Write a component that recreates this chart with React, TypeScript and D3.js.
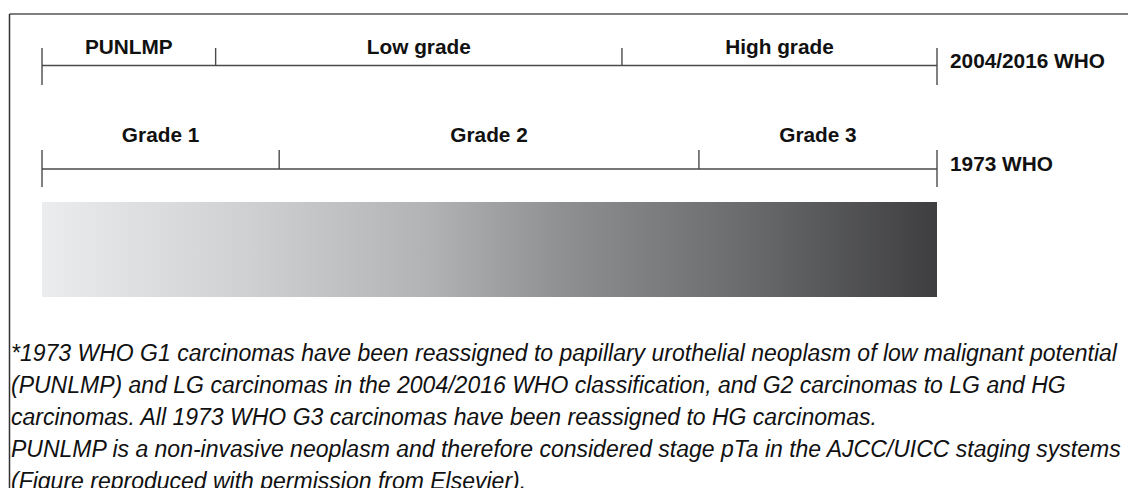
import React from "react";
import * as d3 from "d3";

// Grading spectrum positions (0 = lowest grade, 100 = highest grade)
const who2004Labels = ["PUNLMP", "Low grade", "High grade"];
const who2004Breaks = [0, 19.4, 64.8, 100];
const who1973Labels = ["Grade 1", "Grade 2", "Grade 3"];
const who1973Breaks = [0, 26.5, 73.4, 100];
const systemNames = ["2004/2016 WHO", "1973 WHO"];

const gradientOffsets = [0, 0.23, 0.43, 0.58, 0.78, 1];
const gradientColors = ["#ebeced", "#cfd0d2", "#b2b3b5", "#8f9092", "#6b6c6e", "#3e3e40"];

const footnoteLines = [
  "*1973 WHO G1 carcinomas have been reassigned to papillary urothelial neoplasm of low malignant potential",
  "(PUNLMP) and LG carcinomas in the 2004/2016 WHO classification, and G2 carcinomas to LG and HG",
  "carcinomas. All 1973 WHO G3 carcinomas have been reassigned to HG carcinomas.",
  "PUNLMP is a non-invasive neoplasm and therefore considered stage pTa in the AJCC/UICC staging systems",
  "(Figure reproduced with permission from Elsevier).",
];

const W = 1128;
const H = 488;
const FONT = "'Liberation Sans', Arial, Helvetica, sans-serif";

export default function App() {
  const x = d3.scaleLinear().domain([0, 100]).range([42, 937]);
  const lineColor = "#4a4a4a";

  const rows = [
    { labels: who2004Labels, breaks: who2004Breaks, name: systemNames[0], lineY: 65.5, labelY: 54, nameY: 68, endTop: 48, endBottom: 85 },
    { labels: who1973Labels, breaks: who1973Breaks, name: systemNames[1], lineY: 169, labelY: 142, nameY: 171, endTop: 150, endBottom: 187 },
  ];

  const footY = d3.scaleLinear().domain([0, 4]).range([361, 489]);

  return (
    <svg width={W} height={H} style={{ position: "absolute", left: 0, top: 0, background: "#fff" }} fontFamily={FONT}>
      <defs>
        <linearGradient id="gradeGrad" x1="0" x2="1" y1="0" y2="0">
          {gradientOffsets.map((o, i) => (
            <stop key={i} offset={o} stopColor={gradientColors[i]} />
          ))}
        </linearGradient>
      </defs>
      <rect x={0} y={0} width={W} height={H} fill="#fff" />
      {/* frame */}
      <line x1={9.5} x2={W} y1={14} y2={14} stroke="#555" strokeWidth={1.5} />
      <line x1={9.5} x2={9.5} y1={14} y2={H} stroke="#333" strokeWidth={1.5} />

      {rows.map((r, ri) => (
        <g key={ri}>
          <line x1={x(0)} x2={x(100)} y1={r.lineY} y2={r.lineY} stroke={lineColor} strokeWidth={1.4} />
          {r.breaks.map((b, i) => {
            const isEnd = i === 0 || i === r.breaks.length - 1;
            return (
              <line
                key={i}
                x1={x(b)}
                x2={x(b)}
                y1={r.endTop}
                y2={isEnd ? r.endBottom : r.lineY}
                stroke={lineColor}
                strokeWidth={1.4}
              />
            );
          })}
          {r.labels.map((l, i) => (
            <text
              key={l}
              x={(x(r.breaks[i]) + x(r.breaks[i + 1])) / 2}
              y={r.labelY}
              textAnchor="middle"
              fontWeight="bold"
              fontSize={20.8}
              fill="#111"
            >
              {l}
            </text>
          ))}
          <text x={950} y={r.nameY} fontWeight="bold" fontSize={20.8} fill="#111">
            {r.name}
          </text>
        </g>
      ))}

      <rect x={x(0)} y={202} width={x(100) - x(0)} height={95} fill="url(#gradeGrad)" />

      {footnoteLines.map((t, i) => (
        <text key={i} x={11} y={footY(i)} fontStyle="italic" fontSize={23} fill="#111">
          {t}
        </text>
      ))}
    </svg>
  );
}
